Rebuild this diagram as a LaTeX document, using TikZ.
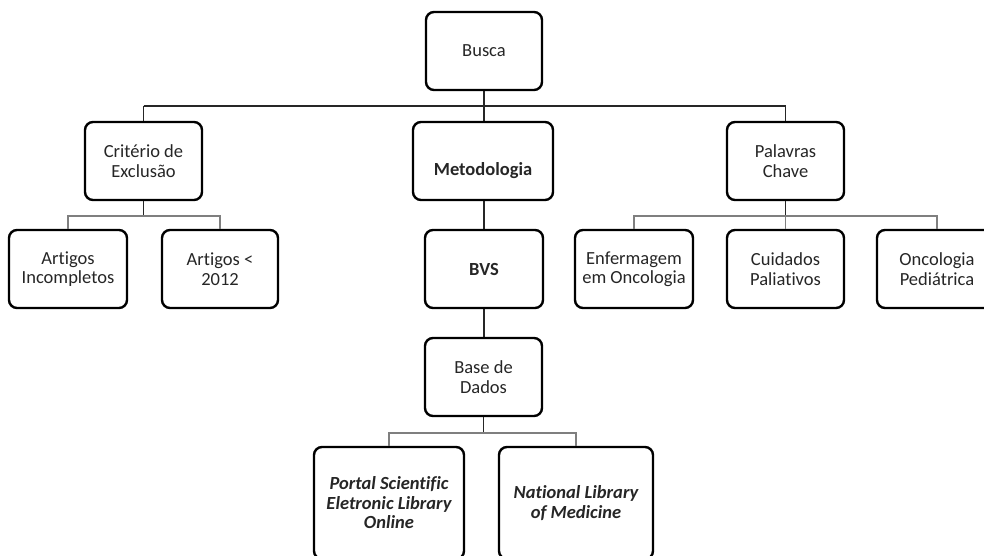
\documentclass[tikz,border=0pt]{standalone}
\usepackage{fontspec}
\setmainfont{Carlito}[Ligatures=NoCommon]
\definecolor{txt}{HTML}{262626}
\definecolor{busline}{HTML}{7F7F7F}
\newcommand{\boxfont}{\fontsize{18.5pt}{19.5pt}\selectfont}
\tikzset{
  box/.style={draw=black, line width=2.4pt, rounded corners=8pt, fill=white,
    align=center, text=txt, inner sep=1pt, font=\boxfont},
  boldbox/.style={box, font=\boxfont\bfseries},
  dbbox/.style={box, font=\boxfont\bfseries\itshape},
  stem/.style={draw=black!85, line width=1.3pt},
  bus/.style={draw=busline, line width=1.8pt},
}
\begin{document}
\begin{tikzpicture}[x=1pt,y=-1pt]
\useasboundingbox (0,0) rectangle (984,556);
\clip (0,0) rectangle (984,556);

% connector junction points
\coordinate (j0) at (484,106);
\coordinate (j1) at (143.5,216);
\coordinate (j2) at (785.5,216);
\coordinate (j3) at (483.5,433);

% first-level connectors
\draw[stem] (484,90) -- (j0);
\draw[stem] (143.5,106) -- (785.5,106);
\draw[stem] (143.5,106) -- (143.5,122);
\draw[stem] (785.5,106) -- (785.5,122);
\draw[stem] (484,106) -- (484,122);
\draw[stem] (484,200) -- (484,230);
\draw[stem] (484,308) -- (484,338);

% boxes
\node[box, minimum width=116pt, minimum height=78pt] (busca) at (484,51) {Busca};
\node[box, minimum width=117pt, minimum height=78pt] (crit) at (143.5,161) {Critério de\\Exclusão};
\node[boldbox, minimum width=140pt, minimum height=78pt] (metod) at (483,161) {\raisebox{-10pt}[\height][\depth]{Metodologia}};
\node[box, minimum width=117pt, minimum height=78pt] (palav) at (785.5,161) {Palavras\\Chave};

\node[box, minimum width=118pt, minimum height=78pt] (artinc) at (68,269) {Artigos\\Incompletos};
\node[box, minimum width=116pt, minimum height=78pt] (art2012) at (220,269) {Artigos <\\2012};
\node[boldbox, minimum width=118pt, minimum height=78pt] (bvs) at (484,269) {BVS};
\node[box, minimum width=118pt, minimum height=78pt] (enf) at (634,269) {Enfermagem\\em Oncologia};
\node[box, minimum width=117pt, minimum height=78pt] (cuid) at (785.5,269) {Cuidados\\Paliativos};
\node[box, minimum width=120pt, minimum height=78pt] (onco) at (937,269) {Oncologia\\Pediátrica};

\node[box, minimum width=117pt, minimum height=78pt] (base) at (483.5,377) {Base de\\Dados};

\node[dbbox, minimum width=150pt, minimum height=112pt] (portal) at (389,503) {Portal Scientific\\Eletronic Library\\Online};
\node[dbbox, minimum width=154pt, minimum height=112pt] (natl) at (576,503) {National Library\\of Medicine};

% second-level connectors
\draw[stem] (crit.south) -- (j1);
\draw[bus] (artinc.north) |- (j1) -| (art2012.north);

\draw[stem] (palav.south) -- (j2);
\draw[bus] (enf.north) |- (j2) -| (onco.north);
\draw[bus] (j2) -- (cuid.north);

\draw[stem] (base.south) -- (j3);
\draw[bus] (portal.north) |- (j3) -| (natl.north);
\end{tikzpicture}
\end{document}
